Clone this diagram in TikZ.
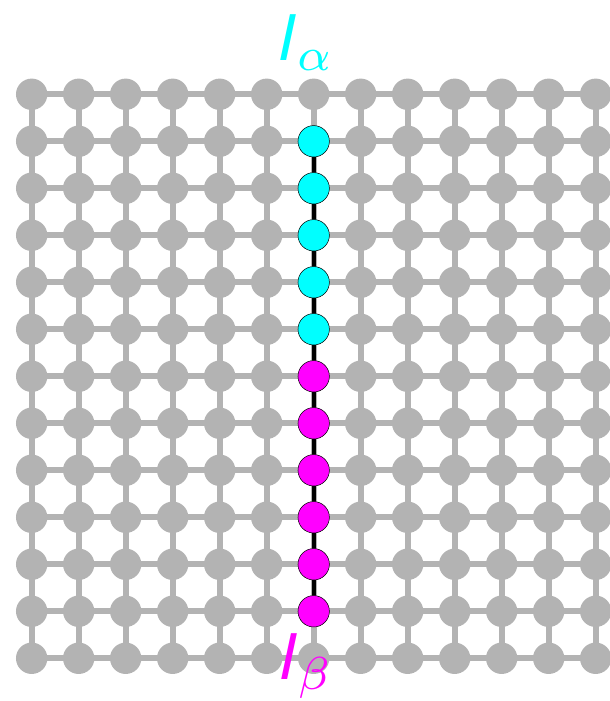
\documentclass[tikz,border=0pt]{standalone}
\definecolor{siteA}{RGB}{0,255,255}
\definecolor{siteB}{RGB}{255,0,255}
\definecolor{latgray}{RGB}{179,179,179}
\begin{document}
\begin{tikzpicture}[x=1cm,y=1cm,
  bond/.style={line width=3.6pt,draw=latgray},
  chain/.style={line width=2.4pt,draw=black},
  site/.style={circle,fill=latgray,minimum size=0.668cm,inner sep=0pt},
  asite/.style={circle,fill=siteA,draw=black,line width=0.3pt,minimum size=0.668cm,inner sep=0pt},
  bsite/.style={circle,fill=siteB,draw=black,line width=0.3pt,minimum size=0.668cm,inner sep=0pt},
  lab/.style={anchor=base,inner sep=0pt,scale=4.0}]
\useasboundingbox (-0.674,2.006) rectangle (12.304,-12.909);
% lattice bonds
\foreach \r in {0,...,12}{
  \draw[bond] (0,-\r) -- (12.6,-\r);
  \draw[bond] (\r,0) -- (\r,-12);
}
% chain
\draw[chain] (6,-1) -- (6,-11);
% sites
\foreach \c in {0,...,12}{
  \foreach \r in {0,...,12}{
    \node[site] (s-\c-\r) at (\c,-\r) {};
  }
}
\foreach \r in {1,...,5}{\node[asite] (a-\r) at (6,-\r) {};}
\foreach \r in {6,...,11}{\node[bsite] (b-\r) at (6,-\r) {};}
% labels
\node[lab,text=siteA] (la) at (5.81,0.71) {$\textsf{\textit{I}}_\alpha$};
\node[lab,text=siteB] (lb) at (5.81,-12.46) {$\textsf{\textit{I}}_\beta$};
\end{tikzpicture}
\end{document}
